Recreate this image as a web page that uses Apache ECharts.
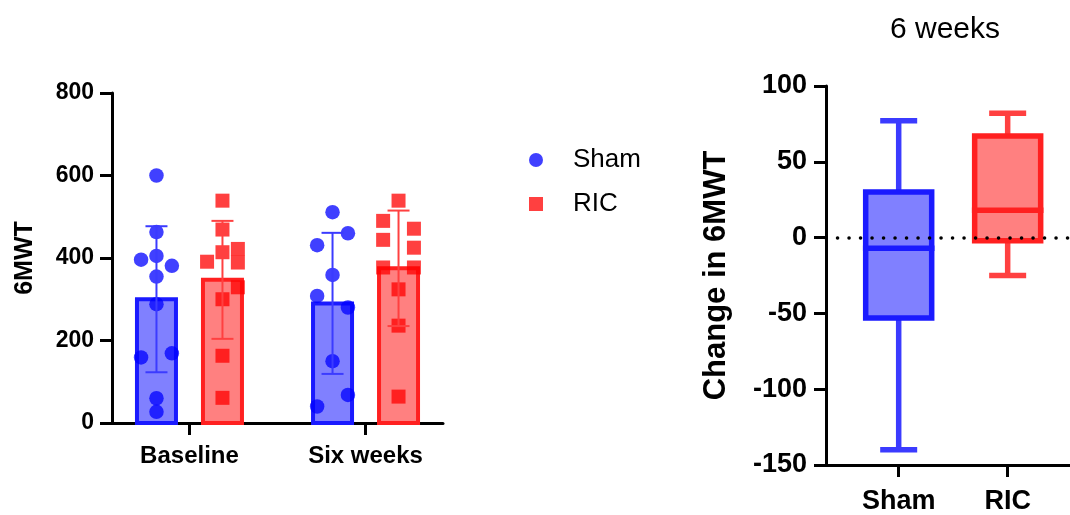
<!DOCTYPE html>
<html>
<head>
<meta charset="utf-8">
<script src="https://cdn.jsdelivr.net/npm/echarts@6/dist/echarts.min.js"></script>
<style>
  html, body { margin: 0; padding: 0; background: #fff; }
  #chart { width: 1070px; height: 515px; }
</style>
</head>
<body>
<div id="chart"></div>
<script>
// Six-minute walk test (6MWT): individual values, group mean ± SD, and change after 6 weeks

const timepoints = ['Baseline', 'Six weeks'];
const groupNames = ['Sham', 'RIC'];

// individual 6MWT values (m) per subject
const shamBaseline = [600, 463, 396, 381, 405, 355, 288, 159, 169, 60, 27];
const shamSixWeeks = [511, 431, 460, 359, 308, 280, 150, 40, 68];
const ricBaseline = [539, 469, 414, 300, 422, 391, 389, 329, 163, 61];
const ricSixWeeks = [539, 490, 471, 444, 425, 377, 377, 324, 236, 64];

// group mean and SD at each timepoint
const shamMean = [300, 290];
const shamSD = [177, 171];
const ricMean = [347, 375];
const ricSD = [143, 140];

// change in 6MWT at 6 weeks: [min, Q1, median, Q3, max]
const changeGroups = ['Sham', 'RIC'];
const shamChange = [-140, -53, -7, 30, 77];
const ricChange = [-25, -2, 18, 67, 82];

// ---- layout / style ----
const FONT = 'Liberation Sans, Arial, Helvetica, sans-serif';
const BLUE = { fill: '#8080ff', stroke: '#1a1aff', line: '#3b3bff', dot: '#0000ff' };
const RED = { fill: '#ff8080', stroke: '#ff2020', line: '#ff4040', dot: '#ff0000' };

const L_GRID = { left: 112, top: 93, width: 331, height: 330 };
const L_YMAX = 800;
const R_GRID = { left: 826, top: 86, width: 244, height: 380 };

const GROUP_SHIFT = 33;   // px between category centre and each group's bar centre
const BAR_W = 39;
const CAP_W = 22;
const DOT = 14.5;
const SQUARE = 14;
const SWARM_STEP = 15.4;
const SWARM_MIN_DIST = 13.1;

// Spread overlapping points sideways (simple beeswarm in pixel space)
function swarmOffsets(values) {
  const k = L_GRID.height / L_YMAX;
  const placed = [];
  const out = new Array(values.length);
  const slots = [0, SWARM_STEP, -SWARM_STEP, 2 * SWARM_STEP, -2 * SWARM_STEP];
  const free = (dx, y) => placed.every(p => Math.hypot(p.x - dx, p.y - y) >= SWARM_MIN_DIST);
  for (let i = 0; i < values.length; i++) {
    if (out[i] !== undefined) continue;
    const y = values[i] * k;
    let dx = slots.find(s => free(s, y));
    if (dx === undefined) dx = 0;
    const nextY = i + 1 < values.length ? values[i + 1] * k : null;
    if (dx === 0 && nextY !== null && Math.abs(nextY - y) < SWARM_MIN_DIST &&
        free(-SWARM_STEP, y) && free(SWARM_STEP, nextY)) {
      out[i] = -SWARM_STEP; placed.push({ x: -SWARM_STEP, y });
      out[i + 1] = SWARM_STEP; placed.push({ x: SWARM_STEP, y: nextY });
      continue;
    }
    out[i] = dx; placed.push({ x: dx, y });
  }
  return out;
}

function pointData(sets, shift) {
  const data = [];
  sets.forEach((vals, t) => {
    const offs = swarmOffsets(vals);
    vals.forEach((v, i) => data.push({ value: [t, v], symbolOffset: [shift + offs[i], 0] }));
  });
  return data;
}

function barRenderer(shift, c) {
  return function (params, api) {
    const x = api.value(0), m = api.value(1);
    const top = api.coord([x, m]);
    const base = api.coord([x, 0]);
    const cx = top[0] + shift;
    return {
      type: 'rect',
      shape: { x: cx - BAR_W / 2, y: top[1], width: BAR_W, height: base[1] - top[1] },
      style: { fill: c.fill, stroke: c.stroke, lineWidth: 4 }
    };
  };
}

function errRenderer(shift, c) {
  return function (params, api) {
    const x = api.value(0), m = api.value(1), sd = api.value(2);
    const hi = api.coord([x, m + sd]);
    const lo = api.coord([x, m - sd]);
    const cx = hi[0] + shift;
    const st = { stroke: c.line, lineWidth: 2 };
    return {
      type: 'group',
      children: [
        { type: 'line', shape: { x1: cx, y1: hi[1], x2: cx, y2: lo[1] }, style: st },
        { type: 'line', shape: { x1: cx - CAP_W / 2, y1: hi[1], x2: cx + CAP_W / 2, y2: hi[1] }, style: st },
        { type: 'line', shape: { x1: cx - CAP_W / 2, y1: lo[1], x2: cx + CAP_W / 2, y2: lo[1] }, style: st }
      ]
    };
  };
}

const BOX_W = 66, BOX_CAP = 37, BOX_LW = 5.5;
function boxRenderer(params, api) {
  const x = api.value(0);
  const c = x === 0 ? BLUE : RED;
  const pMin = api.coord([x, api.value(1)]);
  const pQ1 = api.coord([x, api.value(2)]);
  const pMed = api.coord([x, api.value(3)]);
  const pQ3 = api.coord([x, api.value(4)]);
  const pMax = api.coord([x, api.value(5)]);
  const cx = pMin[0];
  const w = { stroke: c.line, lineWidth: BOX_LW };
  return {
    type: 'group',
    children: [
      { type: 'line', shape: { x1: cx, y1: pMax[1], x2: cx, y2: pQ3[1] }, style: w },
      { type: 'line', shape: { x1: cx, y1: pQ1[1], x2: cx, y2: pMin[1] }, style: w },
      { type: 'line', shape: { x1: cx - BOX_CAP / 2, y1: pMax[1], x2: cx + BOX_CAP / 2, y2: pMax[1] }, style: w },
      { type: 'line', shape: { x1: cx - BOX_CAP / 2, y1: pMin[1], x2: cx + BOX_CAP / 2, y2: pMin[1] }, style: w },
      { type: 'rect', shape: { x: cx - BOX_W / 2, y: pQ3[1], width: BOX_W, height: pQ1[1] - pQ3[1] },
        style: { fill: c.fill, stroke: c.stroke, lineWidth: BOX_LW } },
      { type: 'line', shape: { x1: cx - BOX_W / 2 - BOX_LW / 2, y1: pMed[1], x2: cx + BOX_W / 2 + BOX_LW / 2, y2: pMed[1] },
        style: { stroke: c.stroke, lineWidth: BOX_LW } }
    ]
  };
}

const axisLine = { show: true, onZero: false, lineStyle: { color: '#000', width: 3 } };
const tickStyle = { color: '#000', width: 3 };

const option = {
  animation: false,
  backgroundColor: '#fff',
  textStyle: { fontFamily: FONT },
  title: {
    text: '6 weeks',
    left: 945, top: 15, textAlign: 'center', padding: 0,
    textStyle: { fontFamily: FONT, fontSize: 30, fontWeight: 'normal', color: '#000' }
  },
  legend: {
    orient: 'vertical', left: 529, top: 147, padding: 0,
    itemWidth: 14, itemHeight: 14, itemGap: 18,
    data: [{ name: 'Sham', icon: 'circle' }, { name: 'RIC', icon: 'rect' }],
    textStyle: { fontFamily: FONT, fontSize: 26, lineHeight: 26, color: '#000', padding: [0, 0, 0, 25] }
  },
  grid: [
    Object.assign({ containLabel: false }, L_GRID),
    Object.assign({ containLabel: false }, R_GRID)
  ],
  xAxis: [
    {
      gridIndex: 0, type: 'value', min: -0.44, max: 1.44,
      axisLine, splitLine: { show: false },
      axisTick: { show: true, customValues: [0, 1], length: 12, lineStyle: tickStyle },
      axisLabel: {
        customValues: [0, 1], formatter: v => timepoints[v], margin: 21,
        fontFamily: FONT, fontSize: 24, fontWeight: 'bold', color: '#000'
      }
    },
    {
      gridIndex: 1, type: 'value', min: -0.667, max: 1.572,
      axisLine, splitLine: { show: false },
      axisTick: { show: true, customValues: [0, 1], length: 12, lineStyle: tickStyle },
      axisLabel: {
        customValues: [0, 1], formatter: v => changeGroups[v], margin: 23,
        fontFamily: FONT, fontSize: 27, fontWeight: 'bold', color: '#000'
      }
    }
  ],
  yAxis: [
    {
      gridIndex: 0, type: 'value', min: 0, max: L_YMAX, interval: 200,
      axisLine, splitLine: { show: false },
      axisTick: { show: true, length: 12, lineStyle: tickStyle },
      axisLabel: { margin: 18, fontFamily: FONT, fontSize: 23, fontWeight: 'bold', color: '#000' },
      name: '6MWT', nameLocation: 'middle', nameGap: 74,
      nameTextStyle: { fontFamily: FONT, fontSize: 25, fontWeight: 'bold', color: '#000' }
    },
    {
      gridIndex: 1, type: 'value', min: -150, max: 100, interval: 50,
      axisLine, splitLine: { show: false },
      axisTick: { show: true, length: 12, lineStyle: tickStyle },
      axisLabel: { margin: 19, fontFamily: FONT, fontSize: 27, fontWeight: 'bold', color: '#000' },
      name: 'Change in 6MWT', nameLocation: 'middle', nameGap: 94,
      nameTextStyle: { fontFamily: FONT, fontSize: 31, fontWeight: 'bold', color: '#000' }
    }
  ],
  series: [
    {
      name: 'Sham mean', type: 'custom', xAxisIndex: 0, yAxisIndex: 0, z: 2,
      renderItem: barRenderer(-GROUP_SHIFT, BLUE),
      data: shamMean.map((m, t) => [t, m, shamSD[t]])
    },
    {
      name: 'RIC mean', type: 'custom', xAxisIndex: 0, yAxisIndex: 0, z: 2,
      renderItem: barRenderer(GROUP_SHIFT, RED),
      data: ricMean.map((m, t) => [t, m, ricSD[t]])
    },
    {
      name: 'Sham', type: 'scatter', xAxisIndex: 0, yAxisIndex: 0, z: 3,
      symbol: 'circle', symbolSize: DOT,
      itemStyle: { color: BLUE.dot, opacity: 0.75 },
      data: pointData([shamBaseline, shamSixWeeks], -GROUP_SHIFT)
    },
    {
      name: 'RIC', type: 'scatter', xAxisIndex: 0, yAxisIndex: 0, z: 3,
      symbol: 'rect', symbolSize: SQUARE,
      itemStyle: { color: RED.dot, opacity: 0.75 },
      data: pointData([ricBaseline, ricSixWeeks], GROUP_SHIFT)
    },
    {
      name: 'Sham SD', type: 'custom', xAxisIndex: 0, yAxisIndex: 0, z: 4,
      renderItem: errRenderer(-GROUP_SHIFT, BLUE),
      data: shamMean.map((m, t) => [t, m, shamSD[t]])
    },
    {
      name: 'RIC SD', type: 'custom', xAxisIndex: 0, yAxisIndex: 0, z: 4,
      renderItem: errRenderer(GROUP_SHIFT, RED),
      data: ricMean.map((m, t) => [t, m, ricSD[t]])
    },
    {
      name: 'Change', type: 'custom', xAxisIndex: 1, yAxisIndex: 1, z: 2,
      renderItem: boxRenderer,
      data: [[0].concat(shamChange), [1].concat(ricChange)],
      markLine: {
        silent: true, symbol: ['none', 'none'], label: { show: false },
        lineStyle: { color: '#000', width: 3.5, type: [0.1, 11.4], cap: 'round' },
        data: [{ yAxis: 0 }]
      }
    }
  ]
};

const chart = echarts.init(document.getElementById('chart'), null, { renderer: 'canvas' });
chart.setOption(option);
</script>
</body>
</html>
